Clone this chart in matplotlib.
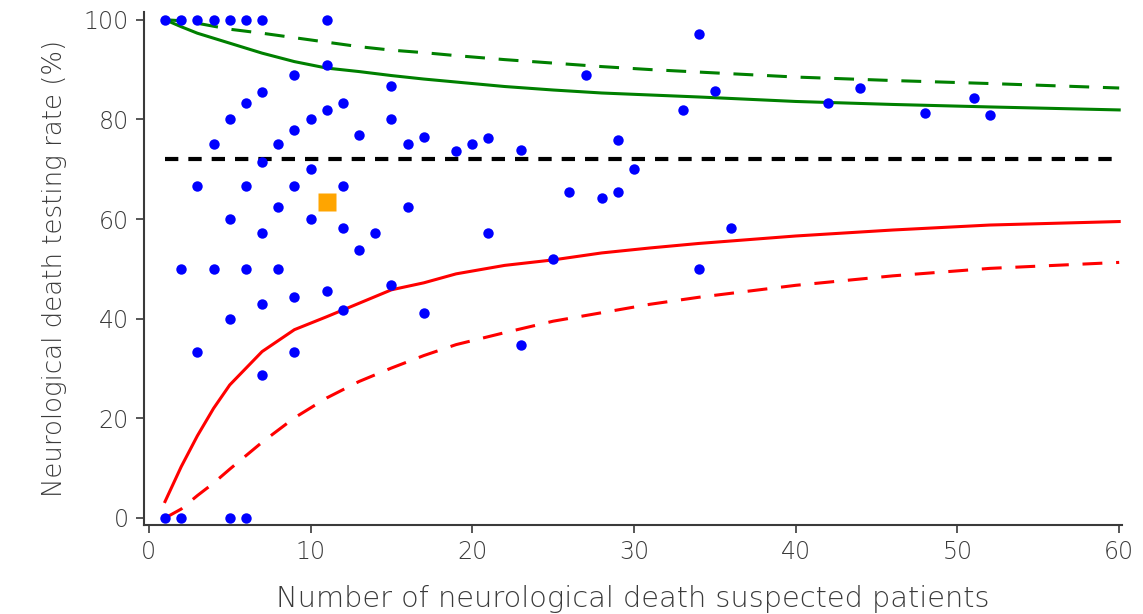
import matplotlib

matplotlib.use("Agg")
import matplotlib.pyplot as plt

# hospitals: suspected patients (n) and testing rate (%)
pts_n = [1, 2, 3, 4, 5, 6, 7, 11,
         11, 9, 7, 6, 5, 4, 8, 9, 10, 11, 12, 13, 15, 15, 16, 17, 7, 10,
         3, 6, 9, 12, 8, 16, 5, 10, 7, 12, 14, 13, 2, 4, 6, 8, 15, 7, 9,
         11, 12, 5, 3, 9, 7, 17, 1, 2, 5, 6,
         19, 20, 21, 23, 27, 29, 30, 26, 28, 29, 21, 25, 33, 34, 34, 23,
         36, 35, 42, 44, 48, 51, 52]
pts_rate = [100, 100, 100, 100, 100, 100, 100, 100,
            91, 89, 85.6, 83.3, 80, 75, 75, 77.8, 80, 81.8, 83.3, 76.9, 86.7, 80, 75, 76.5, 71.4, 70,
            66.7, 66.7, 66.7, 66.7, 62.5, 62.5, 60, 60, 57.1, 58.3, 57.1, 53.8, 50, 50, 50, 50, 46.7, 42.9, 44.4,
            45.5, 41.7, 40, 33.3, 33.3, 28.6, 41.2, 0, 0, 0, 0,
            73.7, 75, 76.2, 73.9, 88.9, 75.9, 70, 65.4, 64.3, 65.5, 57.1, 52, 81.8, 97.1, 50, 34.8,
            58.3, 85.7, 83.3, 86.4, 81.3, 84.3, 80.8]

# highlighted hospital
hl_n = [11]
hl_rate = [63.5]

# overall mean and control limits
mean_rate = 72
lim_n = [1, 2, 3, 4, 5, 7, 9, 11, 13, 15, 17, 19, 22, 25, 28, 31, 34, 40, 46, 52, 60]
upper95 = [100, 98.6, 97.3, 96.3, 95.3, 93.3, 91.6, 90.3, 89.6, 88.8, 88.1, 87.5, 86.6,
           85.9, 85.3, 84.9, 84.5, 83.6, 83.0, 82.5, 81.9]
upper998 = [100, 99.8, 99.3, 98.7, 98.1, 97.3, 96.4, 95.5, 94.6, 93.9, 93.4, 92.8, 92.0,
            91.3, 90.6, 90.0, 89.5, 88.5, 87.8, 87.2, 86.3]
lower95 = [3.3, 10.3, 16.5, 22.0, 26.7, 33.4, 37.8, 40.4, 43.1, 45.8, 47.2, 49.0, 50.7,
           51.8, 53.2, 54.2, 55.1, 56.6, 57.8, 58.8, 59.5]
lower998 = [0, 1.8, 4.5, 7.0, 9.8, 15.2, 20.1, 24.1, 27.4, 30.1, 32.6, 34.8, 37.2,
            39.5, 41.2, 42.9, 44.3, 46.7, 48.6, 50.1, 51.3]

xticks = [0, 10, 20, 30, 40, 50, 60]
yticks = [0, 20, 40, 60, 80, 100]

TXT = "#3a3a3a"
plt.rcParams["font.family"] = ["DejaVu Sans"]
plt.rcParams["font.weight"] = "light"
plt.rcParams["axes.labelweight"] = "light"

fig = plt.figure(figsize=(11.43, 6.14), dpi=100)
ax = fig.add_axes([0.126, 0.145, 0.856, 0.835])

ax.plot(lim_n, upper998, color="#008000", lw=2.2, dashes=(6.5, 4.5))
ax.plot(lim_n, upper95, color="#008000", lw=2.2)
ax.plot(lim_n, lower95, color="#ff0000", lw=2.2)
ax.plot(lim_n, lower998, color="#ff0000", lw=2.2, dashes=(6.5, 4.5))
ax.plot([lim_n[0], lim_n[-1]], [mean_rate, mean_rate], color="black", lw=3,
        dashes=(3.2, 2.4))

ax.plot(pts_n, pts_rate, "o", color="#0000ff", ms=7.5, mec="none", zorder=3)
ax.plot(hl_n, hl_rate, "s", color="#ffa500", ms=12.5, mec="none", zorder=3)

ax.set_xlim(-0.3, 60.2)
ax.set_ylim(-1.4, 101.5)
ax.set_xticks(xticks)
ax.set_yticks(yticks)
ax.tick_params(labelsize=17, colors=TXT, length=6, width=1.2, pad=5)
for s in ("top", "right"):
    ax.spines[s].set_visible(False)
for s in ("left", "bottom"):
    ax.spines[s].set_color(TXT)
    ax.spines[s].set_linewidth(1.5)

ax.set_xlabel("Number of neurological death suspected patients", fontsize=20.8,
              color=TXT, labelpad=15)
ax.set_ylabel("Neurological death testing rate (%)", fontsize=18.7, color=TXT,
              labelpad=12)

fig.savefig("out.png", dpi=100)
